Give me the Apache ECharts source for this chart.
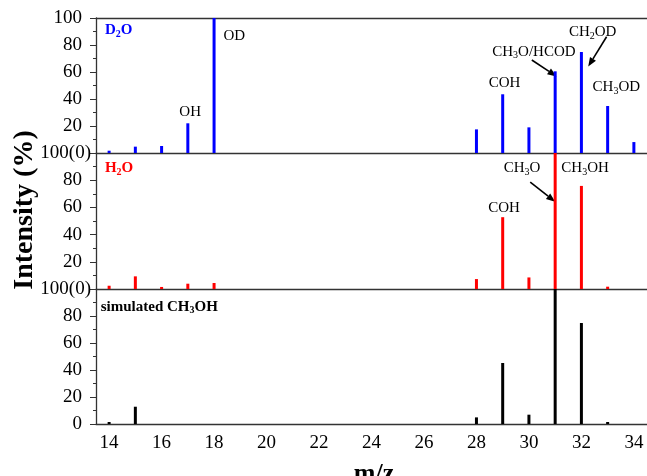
<!DOCTYPE html>
<html>
<head>
<meta charset="utf-8">
<script src="https://cdn.jsdelivr.net/npm/echarts@6/dist/echarts.min.js"></script>
<style>
  html, body { margin: 0; padding: 0; background: #fff; }
  #c { width: 647px; height: 476px; }
</style>
</head>
<body>
<div id="c"></div>
<script>
// m/z categories on the shared horizontal axis
const mzTicks = ['14','15','16','17','18','19','20','21','22','23','24',
                 '25','26','27','28','29','30','31','32','33','34'];

// D2O spectrum
const mzD2O  = [14, 15, 16, 17, 18, 28, 29, 30, 31, 32, 33, 34];
const intD2O = [1.7, 4.7, 5.2, 22, 100, 17.5, 43.5, 19, 60.5, 74.8, 34.8, 8.1];

// H2O spectrum
const mzH2O  = [14, 15, 16, 17, 18, 28, 29, 30, 31, 32, 33];
const intH2O = [2.4, 9.3, 1.5, 3.9, 4.4, 7.3, 52.8, 8.5, 100, 75.8, 1.7];

// simulated CH3OH spectrum
const mzSim  = [14, 15, 28, 29, 30, 31, 32, 33];
const intSim = [1.5, 12.8, 4.9, 45.2, 6.9, 100, 74.8, 1.5];

const SERIF = '"Liberation Serif", "Times New Roman", serif';
const AXIS = '#333';

const panels = [
  { mz: mzD2O, v: intD2O, color: '#0000ff', top: 18,  height: 135 },
  { mz: mzH2O, v: intH2O, color: '#ff0000', top: 153, height: 136 },
  { mz: mzSim, v: intSim, color: '#000000', top: 289, height: 135 }
];

function yFormatter(i) {
  return function (val) {
    if (i > 0 && val === 100) return '100(0)';
    if (val === 0 && i < 2) return '';
    return '{n|' + val + '}';
  };
}

const grids = [], xAxes = [], yAxes = [], series = [];
panels.forEach(function (p, i) {
  grids.push({ left: 96, width: 554, top: p.top, height: p.height });
  xAxes.push({
    type: 'category', gridIndex: i, data: mzTicks, boundaryGap: true,
    axisLine: { lineStyle: { color: AXIS, width: 1.3 } },
    axisTick: { alignWithLabel: true, interval: 0, length: 4, lineStyle: { color: AXIS } },
    axisLabel: i === 2 ? {
      interval: function (idx, val) { return Number(val) % 2 === 0; },
      fontFamily: SERIF, fontSize: 19, color: '#000', margin: 10
    } : { show: false },
    splitLine: { show: false }
  });
  yAxes.push({
    type: 'value', gridIndex: i, min: 0, max: 100, interval: 20,
    axisLine: { show: true, lineStyle: { color: AXIS, width: 1.3 } },
    axisTick: { show: true, length: 6, lineStyle: { color: AXIS } },
    minorTick: { show: true, splitNumber: 2, length: 3, lineStyle: { color: AXIS } },
    splitLine: { show: false },
    axisLabel: {
      formatter: yFormatter(i), fontFamily: SERIF, fontSize: 19, color: '#000', margin: 5,
      rich: { n: { fontFamily: SERIF, fontSize: 19, color: '#000', padding: [0, 9, 0, 0] } }
    }
  });
  series.push({
    type: 'bar', xAxisIndex: i, yAxisIndex: i, barWidth: 3,
    itemStyle: { color: p.color },
    data: p.mz.map(function (m, k) { return [String(m), p.v[k]]; })
  });
});

// frame line along the top of the first panel
xAxes.push({
  type: 'category', gridIndex: 0, data: mzTicks, position: 'top',
  axisLine: { onZero: false, lineStyle: { color: AXIS, width: 1.3 } },
  axisTick: { show: false }, axisLabel: { show: false }
});

const chart = echarts.init(document.getElementById('c'));
chart.setOption({
  animation: false,
  backgroundColor: '#fff',
  grid: grids, xAxis: xAxes, yAxis: yAxes, series: series
});

// fragment annotations, placed in (m/z, intensity) units of each panel
const notes = [
  { grid: 0, text: 'OD',         mz: 18.36, v: 86.7, align: 'left' },
  { grid: 0, text: 'OH',         mz: 17.09, v: 30.4 },
  { grid: 0, text: 'COH',        mz: 29.07, v: 51.6 },
  { grid: 0, text: 'CH_3O/HCOD', mz: 30.19, v: 75.0 },
  { grid: 0, text: 'CH_2OD',     mz: 32.43, v: 89.4 },
  { grid: 0, text: 'CH_3OD',     mz: 33.33, v: 48.7 },
  { grid: 1, text: 'COH',        mz: 29.05, v: 59.3 },
  { grid: 1, text: 'CH_3O',      mz: 29.74, v: 88.8 },
  { grid: 1, text: 'CH_3OH',     mz: 32.14, v: 88.8 }
];
const arrows = [
  { grid: 0, from: [30.11, 68.9], to: [31.05, 56.7] },
  { grid: 0, from: [32.96, 86.1], to: [32.26, 64.1] },
  { grid: 1, from: [30.05, 78.5], to: [31.0, 64.2] }
];
const tags = [
  { grid: 0, text: 'D_2O',             color: '#0000ff', mz: 13.84, v: 91.1 },
  { grid: 1, text: 'H_2O',             color: '#ff0000', mz: 13.84, v: 89.0 },
  { grid: 2, text: 'simulated CH_3OH', color: '#000000', mz: 13.68, v: 86.9 }
];

// category positions are whole m/z steps; fractional m/z is interpolated
// between the pixel centres of neighbouring categories
function px(grid, mz, v) {
  const pos = mz - Number(mzTicks[0]);
  const i0 = Math.floor(pos), f = pos - i0;
  const a = chart.convertToPixel({ gridIndex: grid }, [i0, v]);
  const b = chart.convertToPixel({ gridIndex: grid }, [i0 + 1, v]);
  return [a[0] + (b[0] - a[0]) * f, a[1]];
}
function richText(s) {
  return '{a|' + s.replace(/_(\d)/g, '}{s|$1}{a|') + '}';
}
function richStyle(size, weight, color) {
  return {
    a: { fontFamily: SERIF, fontSize: size, fontWeight: weight, fill: color, lineHeight: size + 3 },
    s: { fontFamily: SERIF, fontSize: Math.round(size * 0.66), fontWeight: weight, fill: color,
         lineHeight: 8, verticalAlign: 'bottom' }
  };
}

const graphics = [];
notes.forEach(function (n) {
  const p = px(n.grid, n.mz, n.v);
  graphics.push({
    type: 'text', x: p[0], y: p[1],
    style: { text: richText(n.text), rich: richStyle(15, 'normal', '#000'),
             textAlign: n.align || 'center', textVerticalAlign: 'middle' }
  });
});
tags.forEach(function (t) {
  const p = px(t.grid, t.mz, t.v);
  graphics.push({
    type: 'text', x: p[0], y: p[1],
    style: { text: richText(t.text), rich: richStyle(15, 'bold', t.color),
             textAlign: 'left', textVerticalAlign: 'middle' }
  });
});
arrows.forEach(function (a) {
  const s = px(a.grid, a.from[0], a.from[1]);
  const e = px(a.grid, a.to[0], a.to[1]);
  const dx = e[0] - s[0], dy = e[1] - s[1];
  const len = Math.sqrt(dx * dx + dy * dy);
  const ux = dx / len, uy = dy / len;
  const hl = 9, hw = 3.5;
  const bx = e[0] - ux * hl, by = e[1] - uy * hl;
  graphics.push({
    type: 'line', shape: { x1: s[0], y1: s[1], x2: bx, y2: by },
    style: { stroke: '#000', lineWidth: 1.6 }
  });
  graphics.push({
    type: 'polygon',
    shape: { points: [[e[0], e[1]], [bx - uy * hw, by + ux * hw], [bx + uy * hw, by - ux * hw]] },
    style: { fill: '#000' }
  });
});

// axis titles
graphics.push({
  type: 'text', x: 25, y: 210, rotation: Math.PI / 2,
  style: { text: 'Intensity (%)', font: 'bold 28px ' + SERIF, fill: '#000',
           textAlign: 'center', textVerticalAlign: 'middle' }
});
graphics.push({
  type: 'text', x: 374, y: 474,
  style: { text: 'm/z', font: 'bold 26px ' + SERIF, fill: '#000',
           textAlign: 'center', textVerticalAlign: 'middle' }
});

chart.setOption({ graphic: graphics });
</script>
</body>
</html>
